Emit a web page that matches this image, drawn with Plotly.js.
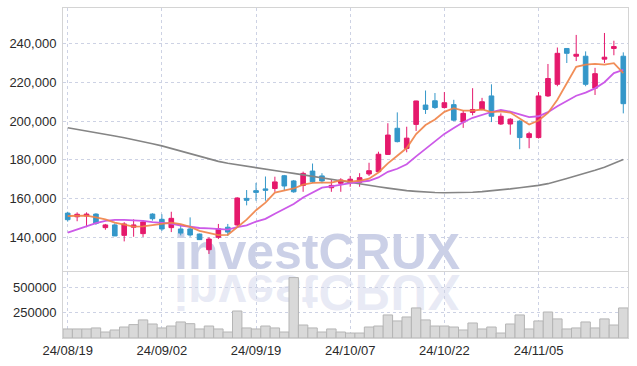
<!DOCTYPE html>
<html>
<head>
<meta charset="utf-8">
<script src="https://cdn.plot.ly/plotly-3.0.1.min.js"></script>
<style>
html,body{margin:0;padding:0;background:#fff;}
#chart{width:637px;height:366px;}
</style>
</head>
<body>
<div id="chart"></div>
<script>
const dates = ["24/08/19","24/08/20","24/08/21","24/08/22","24/08/23","24/08/26","24/08/27","24/08/28","24/08/29","24/08/30",
"24/09/02","24/09/03","24/09/04","24/09/05","24/09/06","24/09/09","24/09/10","24/09/11","24/09/12","24/09/13",
"24/09/19","24/09/20","24/09/23","24/09/24","24/09/25","24/09/26","24/09/27","24/09/30","24/10/02","24/10/04",
"24/10/07","24/10/08","24/10/10","24/10/11","24/10/14","24/10/15","24/10/16","24/10/17","24/10/18","24/10/21",
"24/10/22","24/10/23","24/10/24","24/10/25","24/10/28","24/10/29","24/10/30","24/10/31","24/11/01","24/11/04",
"24/11/05","24/11/06","24/11/07","24/11/08","24/11/11","24/11/12","24/11/13","24/11/14","24/11/15","24/11/18"];

const open  = [152500,150600,151000,152000,145000,146400,141000,145200,141900,152000,
149300,145000,144300,144300,141700,133600,140000,145200,146400,160100,
164100,165000,165200,171800,169100,166800,174200,171700,165600,167900,
168200,168400,172700,173900,182800,196300,185900,198300,208300,210500,
207000,208500,199500,204500,206000,213000,198500,198500,200000,191500,
191500,213000,219000,237500,233500,233500,217000,232000,237500,233500];
const high  = [153200,152900,152900,152400,146900,147200,147800,149300,148900,152400,
151900,153200,146700,150300,141900,140000,146900,146900,160700,164400,
168100,171400,171300,172200,169600,173900,178100,173100,169600,170500,
171700,173100,178500,184200,198900,204500,197100,210500,215800,214500,
215000,211000,205500,217000,212000,219000,204000,201500,200500,194500,
215000,229500,238000,237500,244500,236000,227500,245500,241500,235500];
const low   = [148100,148300,145200,146400,143900,140700,137900,140300,140200,148600,
143300,142700,141000,140300,138700,131400,139100,140700,145800,156500,
158900,158900,163500,164200,163000,163500,168000,167900,163500,163500,
166100,166100,171700,173700,182500,189000,183900,194900,203700,206300,
206500,200000,196500,203000,205500,199500,198000,193000,185500,186000,
191000,212500,218000,230000,231000,218000,213500,230000,234000,204000];
const close = [149100,151900,152000,147200,146400,140700,146900,146400,147900,149600,
144300,149800,142200,141200,138800,139100,144400,142700,160300,159100,
163200,164300,168600,166500,163500,173000,168700,169100,166800,169600,
170000,170800,174400,182900,192800,189400,191200,210400,206000,207000,
209500,200500,204000,206000,210000,202500,202500,201000,191500,193500,
213000,222000,235000,235000,234500,219000,224500,233000,238500,209000];

const ma5  = [151000,151000,151200,150300,149300,147600,146600,145500,145600,146300,
147000,147600,146800,145400,143300,142200,141100,141300,145100,149100,
154000,157900,163100,164300,165200,167200,168100,168200,168200,169400,
168800,169200,170300,173500,178200,182100,186100,193300,198000,200800,
204800,206700,205400,205400,206000,204600,205000,204400,201500,198200,
200300,204200,211000,219700,228000,229200,229600,229200,229900,224800];
const ma10 = [142400,144100,145800,147300,148500,149000,149000,148800,148500,147800,
147300,147100,146100,145500,144800,144600,144400,144000,145200,146200,
148100,149500,152200,154700,157200,160600,163000,165600,166300,167300,
168000,168600,169200,170900,173800,175400,177700,181800,185700,189500,
193400,196400,199400,201700,203400,204700,205800,204900,203500,202100,
202500,204600,207700,210600,213100,214700,216900,220100,224800,226400];
const ma60 = [196600,195800,194900,194000,193200,192300,191400,190500,189500,188300,
187200,185800,184400,183000,181600,180300,179200,178200,177400,176700,
176000,175200,174400,173700,173000,172200,171500,170700,170000,169200,
168400,167600,166900,166100,165400,164700,164100,163700,163300,163100,
163000,163000,163100,163300,163600,164000,164500,165000,165600,166100,
166800,167700,168900,170400,171800,173100,174600,176200,178000,180200];

const volume = [89000,89000,89000,99000,59000,79000,108000,132000,178000,138000,
99000,118000,158000,141000,89000,118000,89000,59000,266000,99000,
89000,118000,99000,59000,595000,128000,99000,59000,89000,59000,
49000,49000,108000,118000,227000,168000,207000,296000,178000,118000,
118000,108000,79000,148000,89000,108000,49000,138000,227000,89000,
168000,256000,188000,89000,99000,158000,99000,188000,128000,296000];

const xTickLabels = ["24/08/19","24/09/02","24/09/19","24/10/07","24/10/22","24/11/05"];
const priceTicks = [140000,160000,180000,200000,220000,240000];
const volumeTicks = [250000,500000];
const watermark = "investCRUX";

const UP = "#e5196c", DOWN = "#3497c9";
const tickFont = {family: "Liberation Sans", size: 13, color: "#2a2a2a"};
const gridC = "#cdd2e4";

const data = [
  {type:"scatter", mode:"lines", x:dates, y:ma60, line:{color:"#858585", width:1.6}, hoverinfo:"skip", xaxis:"x", yaxis:"y"},
  {type:"scatter", mode:"lines", x:dates, y:ma10, line:{color:"#cc5ae8", width:1.8}, hoverinfo:"skip", xaxis:"x", yaxis:"y"},
  {type:"candlestick", x:dates, open:open, high:high, low:low, close:close,
   increasing:{line:{color:UP, width:1}, fillcolor:UP},
   decreasing:{line:{color:DOWN, width:1}, fillcolor:DOWN},
   whiskerwidth:0, hoverinfo:"skip", xaxis:"x", yaxis:"y"},
  {type:"scatter", mode:"lines", x:dates, y:ma5, line:{color:"rgba(240,130,70,0.9)", width:1.8}, hoverinfo:"skip", xaxis:"x", yaxis:"y"},
  {type:"bar", x:dates, y:volume, marker:{color:"#d9d9d9", line:{color:"#b5b5b5", width:1}}, hoverinfo:"skip", xaxis:"x", yaxis:"y2"}
];

const layout = {
  width:637, height:366,
  margin:{l:63, r:9, t:8, b:28},
  paper_bgcolor:"#ffffff", plot_bgcolor:"rgba(0,0,0,0)",
  showlegend:false, bargap:0,
  font:tickFont,
  xaxis:{type:"category", range:[-0.5,59.5], anchor:"y2",
    tickvals:xTickLabels, ticktext:xTickLabels, tickfont:tickFont,
    showgrid:true, gridcolor:gridC, griddash:"dot", gridwidth:1,
    showline:true, linecolor:"#d4d4d4", linewidth:1, mirror:"all",
    ticks:"", rangeslider:{visible:false}, zeroline:false, fixedrange:true},
  yaxis:{domain:[0.203,1], range:[122600,258400], tickvals:priceTicks, tickformat:",d",
    tickfont:tickFont, showgrid:true, gridcolor:gridC, griddash:"dot", gridwidth:1,
    showline:true, linecolor:"#d4d4d4", mirror:true, ticks:"outside", ticklen:3, tickcolor:"rgba(0,0,0,0)",
    zeroline:false, fixedrange:true},
  yaxis2:{domain:[0,0.2], range:[0,650000], tickvals:volumeTicks, tickformat:"d",
    tickfont:tickFont, showgrid:true, gridcolor:gridC, griddash:"dot", gridwidth:1,
    showline:true, linecolor:"#d4d4d4", mirror:true, ticks:"outside", ticklen:3, tickcolor:"rgba(0,0,0,0)",
    zeroline:false, fixedrange:true},
  annotations:[
    {text:watermark, xref:"paper", yref:"paper", x:0.4504, y:0.203, xanchor:"center", yanchor:"bottom", yshift:-11,
     showarrow:false, font:{family:"Liberation Sans", size:50, color:"rgba(160,170,212,0.55)", weight:"bold"}},
    {text:watermark, xref:"paper", yref:"paper", x:0.4504, y:0.203, xanchor:"center", yanchor:"bottom", yshift:-51,
     showarrow:false, font:{family:"Liberation Sans", size:50, color:"rgba(190,196,226,0.35)", weight:"bold"}}
  ]
};

const gd = document.getElementById("chart");
Plotly.newPlot(gd, data, layout, {staticPlot:true, displayModeBar:false}).then(function(){
  const anns = Array.from(gd.querySelectorAll("g.annotation"));
  const below = gd.querySelector(".main-svg .layer-below");
  if (below) anns.forEach(a => below.appendChild(a));
  if (anns[1]) {
    const t = anns[1].querySelector("text");
    if (t) {
      t.style.transformBox = "fill-box";
      t.style.transformOrigin = "center";
      t.style.transform = "scaleY(-1)";
    }
  }
});
</script>
</body>
</html>
